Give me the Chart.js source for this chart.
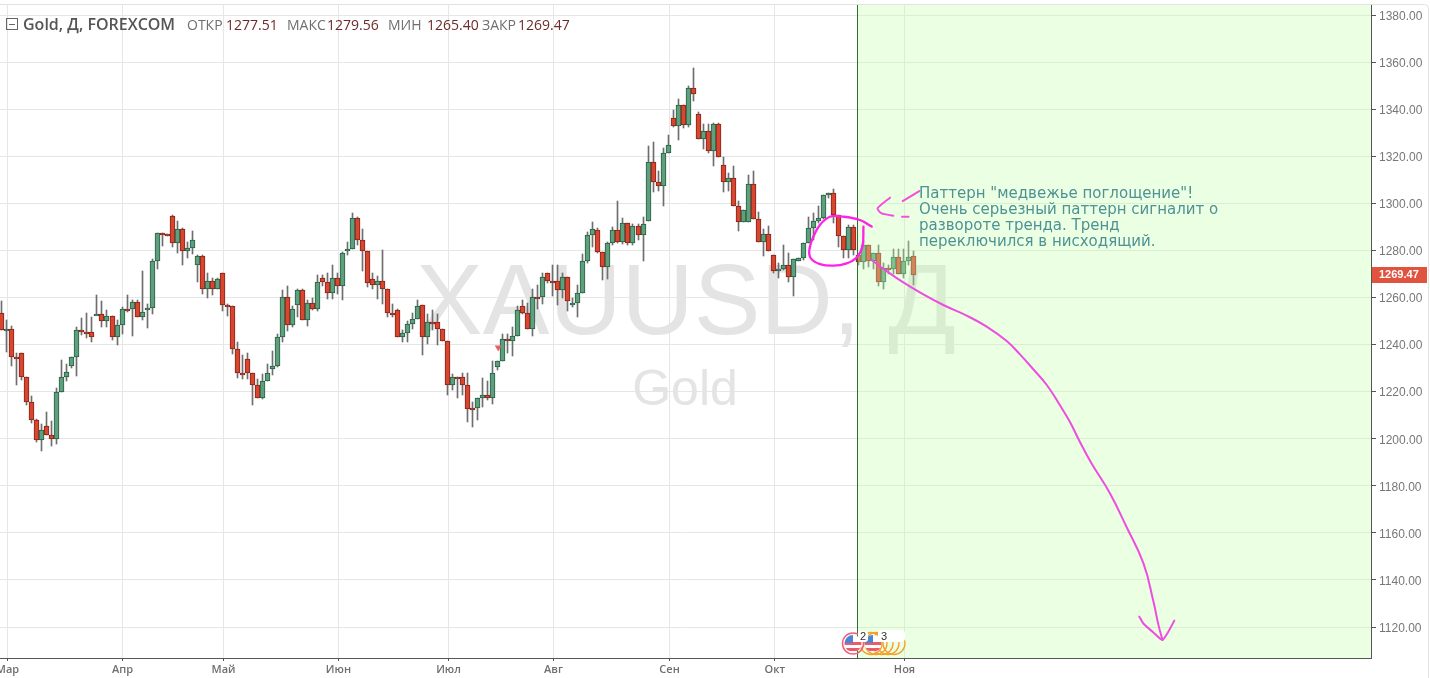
<!DOCTYPE html>
<html lang="ru">
<head>
<meta charset="utf-8">
<title>Gold, Д, FOREXCOM</title>
<script src="https://cdn.jsdelivr.net/npm/chart.js@4"></script>
<style>html,body{margin:0;padding:0;background:#fff;overflow:hidden}canvas{display:block}</style>
</head>
<body>
<canvas id="c" width="1430" height="678"></canvas>
<script>
const opens = [1253.2,1246,1246.8,1234.9,1236.6,1226,1215.7,1208.1,1199.6,1205.5,
1201.7,1200,1220,1226,1231,1234.5,1246,1245.5,1245.4,1252.6,
1252.8,1249.8,1252.2,1243.4,1248.1,1255.3,1255.3,1257.9,1251.5,1254.9,
1255.7,1275.7,1287.2,1286.8,1294.5,1283,1288.9,1279.6,1280.9,1274,
1277.5,1263.4,1267.2,1263.8,1270.2,1256.6,1256.2,1237.9,1228.1,1234,
1227.7,1223,1217.4,1224.7,1229.4,1231,1243,1260,1248.1,1256.6,
1263,1250.6,1257.5,1254.9,1268.1,1266.4,1262.1,1268.4,1264.7,1279.6,
1280.4,1293.6,1284.3,1279.6,1267.7,1265.1,1267.2,1263.4,1253.6,1254.5,
1243.4,1244.7,1248.9,1251,1257,1243,1249.4,1249.4,1246.4,1241.7,
1223,1226.4,1226.4,1222.6,1213.2,1213.2,1217.4,1218.7,1217.4,1230.6,
1232.8,1242.5,1241.3,1243.8,1256.2,1253.6,1246.4,1260,1260,1270.2,
1267.2,1267.2,1263,1268.9,1257,1257.5,1261.7,1275.7,1286.4,1288.5,
1279.2,1272.8,1283,1288.5,1283.4,1291.5,1283,1290.2,1286.4,1292.3,
1317.5,1308.9,1307.2,1321.3,1336.2,1332.8,1341.7,1333.2,1348.9,1337.9,
1327.2,1330.6,1322.1,1333.6,1316.2,1308.9,1310.6,1298.7,1291.9,1291.9,
1308.1,1293.2,1283.4,1286.8,1277.9,1271.1,1272.3,1274,1268.8,1275.3,
1276.6,1283,1289.4,1292.3,1293.6,1303.4,1304.3,1294.9,1286,1280,
1289.8,1278,1274.9,1282.5,1275.7,1279.1,1266.6,1272.7,1272.3,1277,1269.8,1275.3,1277.51];
const highs = [1258.4,1250.4,1247.7,1236.2,1236.6,1226,1218.3,1208.5,1206.1,1211.2,
1207.4,1221.7,1233.3,1231.6,1234.5,1247.4,1251.2,1253.3,1251.8,1261,
1258.4,1254.6,1252.2,1250.4,1255.9,1261,1258.9,1258.9,1271.2,1257.2,
1276.2,1287.2,1287.2,1286.8,1295,1292.5,1289.4,1283.4,1288.2,1277.9,
1277.9,1270.2,1268.1,1268.1,1270.2,1257.4,1256.2,1241,1235.4,1236.2,
1228.1,1225.5,1227.4,1231.6,1237.2,1244.4,1263.1,1264.8,1256.3,1263.5,
1263.5,1258.9,1259.7,1269.5,1269.5,1270.2,1274,1270.2,1279.4,1283.5,
1295.7,1294,1289.1,1279.6,1270.2,1269.1,1280.1,1263.4,1257.2,1255,
1246,1249.8,1253.6,1258.9,1257,1252.8,1254.6,1252.8,1246.4,1241.7,
1227.4,1226.4,1228.1,1228.1,1215.5,1217.4,1225.8,1224.4,1232.8,1232.8,
1244.3,1244.3,1247.4,1256.3,1258.9,1257.5,1263.7,1265.2,1270.2,1270.2,
1274,1273.6,1270.6,1268.9,1259.6,1265.1,1278.4,1287.8,1291.9,1289.4,
1279.2,1283.7,1290.1,1301,1293.6,1291.5,1291.1,1291.1,1294,1324.4,
1326.1,1313.6,1323.4,1329.1,1339.7,1344.3,1341.7,1349.9,1357.5,1339,
1333.6,1333.6,1334.3,1334.3,1319.6,1312.8,1315.9,1301,1297,1312.1,
1313.8,1296.2,1289,1290.2,1277.9,1274.5,1282.1,1278.7,1276.2,1276.6,
1283,1294,1295.8,1299,1303.4,1304.3,1306,1294.9,1286,1290.8,
1290.8,1278,1284,1282.5,1279.1,1282.5,1274.5,1274,1280.8,1280.8,1280.8,1284,1279.56];
const lows = [1246,1236.9,1230.9,1222.7,1224.8,1214.2,1206.7,1198.6,1194.7,1201.7,
1196.7,1197.6,1220,1224.4,1230.1,1226.5,1244,1242.8,1241,1252.6,
1247.5,1247.5,1241.8,1239.7,1244.4,1253.8,1243.5,1251.5,1250.6,1247,
1253,1272,1281.8,1286.7,1281.6,1279,1273.9,1276.9,1278.6,1266.5,
1261.4,1259.9,1261,1263.4,1254.2,1252,1235.9,1225.8,1225.3,1225.3,
1214.3,1217.4,1216.9,1224.7,1227,1230.5,1241,1245.8,1247.5,1251.8,
1250.6,1247.8,1254.6,1254.3,1264.8,1259.4,1259.4,1261.4,1259,1277.9,
1280.4,1282.3,1271.3,1264.5,1263.4,1259.4,1257.4,1251.5,1251.5,1243,
1241,1241,1246.8,1251,1235.4,1240.4,1246,1239.7,1241.3,1218.4,
1220.6,1217.2,1218.4,1207.1,1205,1207.8,1213.5,1216.6,1214.9,1229.1,
1232.8,1236.2,1235.2,1243.8,1253,1246.4,1243.7,1254.9,1257.4,1266,
1260.7,1256.6,1259.6,1254.3,1256,1251.8,1261.7,1274.7,1281.6,1278.7,
1267.4,1268,1282.3,1283,1282.6,1282.3,1282.3,1284.4,1275.6,1292.3,
1305,1305.4,1299,1321.3,1332.3,1326.7,1331.9,1332.6,1343.3,1327.2,
1323,1321.3,1315.9,1319.6,1305,1305.3,1298.7,1288.4,1291.9,1291.9,
1293.2,1283.4,1277.7,1279.6,1270.2,1268.1,1271.6,1266.7,1260.7,1275.3,
1275.9,1283,1284.4,1291.5,1293.2,1302.1,1291.5,1281.6,1276.6,1276.6,
1278,1274,1272.3,1273,1272.3,1264.9,1263.5,1269.8,1269.8,1269.8,1268.1,1274,1265.4];
const closes = [1246,1246.8,1234.9,1234,1226,1215.7,1208.1,1199.6,1203.8,1201.7,
1200,1220,1226,1228.5,1234.5,1246,1245.4,1245.4,1243,1252.8,
1249.8,1252.2,1243.4,1248.5,1255.3,1255.2,1257.9,1251.5,1254,1255.7,
1275.7,1287.2,1286.8,1286.7,1283,1288.9,1279.6,1280.9,1284.3,1277.5,
1263.4,1267.2,1263.8,1267.7,1256.6,1256.3,1237.9,1228.1,1228,1227.7,
1223,1217.4,1224.7,1227.7,1231,1243,1260,1248.1,1255.3,1263,
1250.6,1257.5,1254.9,1266.4,1266.4,1262.1,1268.4,1264.7,1278.7,1280.4,
1293.6,1284.3,1279.6,1266,1265.1,1267.2,1263.4,1253.6,1253.2,1243.4,
1244.7,1248.9,1251,1256.2,1243,1249.4,1249.3,1246.4,1241.3,1223,
1226.4,1226.3,1222.6,1212.8,1213.1,1217.4,1218.7,1217.4,1228.1,1232.8,
1242.5,1241.3,1243.8,1254.5,1253.6,1246.4,1260,1259.9,1268.9,1267.2,
1267.1,1263,1268.9,1258.3,1257.5,1261.7,1275.7,1286.4,1288.9,1279.2,
1272.8,1283,1288.5,1283.4,1291.5,1283,1290.2,1286.4,1291.1,1317.5,
1308.9,1307.2,1321.3,1324.7,1332.8,1341.7,1333.2,1348.9,1346.4,1327.2,
1330.6,1322.1,1333.6,1319.6,1308.9,1310.6,1298.7,1291.9,1297,1308.1,
1293.2,1283.4,1286.8,1279.6,1271.1,1272.3,1274,1268.8,1276.2,1276.6,
1283,1289.4,1292.3,1293.6,1303.4,1304.3,1294.9,1286,1280,1289.8,
1280,1274.9,1282.5,1275.7,1279.1,1266.6,1272.7,1272.3,1277,1269.8,1275.3,1277.4,1269.47];

const monthLabels = ['Мар','Апр','Май','Июн','Июл','Авг','Сен','Окт','Ноя'];
const monthIndex  = [1.14,24.1,44.26,67.2,89.18,110.13,133.3,154.3,180.2];
const priceMin = 1106.83, priceMax = 1384.25, priceStep = 20;
const indexMin = -0.359, indexMax = 273.32;
const forecastStart = 170.82;
const lastClose = 1269.47;
const sellSignal = {x: 99.1, y: 1238.5};

const headerTitle = 'Gold, Д, FOREXCOM';
const headerLabels = ['ОТКР','МАКС','МИН','ЗАКР'];
const headerValues = ['1277.51','1279.56','1265.40','1269.47'];
const noteLines = ['Паттерн "медвежье поглощение"!','Очень серьезный паттерн сигналит о','развороте тренда. Тренд','переключился в нисходящий.'];

const curveX = [173.64,176.3,179.96,183.96,187.95,192.6,196.6,200.6,203.25,205.9,208.6,211.2,213.2,215.2,217.55,221.2,224.5,227.9,229.9,230.9,231.7];
const curveY = [1275.9,1271.7,1266.4,1261.3,1256.8,1252.3,1247.6,1241.5,1235.8,1229.5,1222.8,1214.3,1207.2,1198.7,1189.5,1176.8,1162.6,1147,1130.7,1120.8,1114.5];
const headX  = [227.07,227.87,229.87,231.67,232.86,234.06];
const headY  = [1124.4,1121.5,1117.7,1114.5,1118,1122.7];
const ringX  = [173.65,171.3,168,165.3,163.3,162,161.2,161.5,163.3,166,168.65,170.65,171.8,172];
const ringY  = [1290.1,1292.9,1294.3,1294.3,1290.8,1285.8,1280.2,1276.6,1274.2,1273.5,1274.5,1277,1281.6,1290.1];
const dashX  = [183.16,179.83,179.9,177.3,174.8,175.64,177.97,178.5,179.7,181];
const dashY  = [1305.2,1300.95,null,1302.4,1297.8,1295.7,1294.7,null,1294.3,1294.3];

const upFill='#5f9f7d', upLine='#245f42', downFill='#d9462f', downLine='#84231a';
const pair=(xs,ys)=>xs.map((x,i)=>({x,y:ys[i]}));
const idx=opens.map((_,i)=>i);
const isUp=i=>closes[i]>=opens[i];
const scribble=(data,color,width,tension)=>({type:'line',data,borderColor:color,borderWidth:width,pointRadius:0,tension,order:0,borderCapStyle:'round',borderJoinStyle:'round',spanGaps:false});

const pixelSnap={id:'pixelSnap',afterDatasetsUpdate(chart){
  [0,1].forEach(d=>chart.getDatasetMeta(d).data.forEach(el=>{
    el.x=Math.floor(el.x)+0.5;
    let a=Math.round(el.y),b=Math.round(el.base);
    if(Math.abs(a-b)<2){ b=a+2; }
    el.y=a; el.base=b;
  }));
}};

const decor={id:'decor',
  beforeDatasetsDraw(chart){
    const c=chart.ctx; c.save();
    c.fillStyle='#e4e4e4'; c.textAlign='center'; c.textBaseline='alphabetic';
    c.font='100px "Liberation Sans"'; c.fillText('XAUUSD, Д',686,334);
    c.font='50px "Liberation Sans"'; c.fillText('Gold',685,405);
    c.restore();
  },
  afterDatasetDraw(chart,args){
    if(args.index!==1) return;
    const c=chart.ctx,a=chart.chartArea,x=Math.floor(chart.scales.x.getPixelForValue(forecastStart));
    c.save();
    c.fillStyle='rgba(195,255,170,0.34)';
    c.fillRect(x,a.top,a.right-x,a.bottom-a.top);
    c.fillStyle='#2c6e2c';
    c.fillRect(x,a.top,1,a.bottom-a.top);
    c.restore();
  },
  afterDraw(chart){
    const c=chart.ctx,yS=chart.scales.y,xS=chart.scales.x;
    c.save();
    // frame
    c.strokeStyle='#e2e2e2'; c.lineWidth=1;
    c.beginPath(); c.moveTo(0,4.5); c.lineTo(1424,4.5); c.arcTo(1428.5,4.5,1428.5,9,4); c.lineTo(1428.5,678); c.stroke();
    // header
    c.strokeStyle='#666'; c.strokeRect(6.5,18.5,11,11);
    c.beginPath(); c.moveTo(9,24.5); c.lineTo(15,24.5); c.stroke();
    c.textBaseline='alphabetic'; c.textAlign='left';
    c.fillStyle='#555'; c.font='600 16px "Open Sans"'; c.fillText(headerTitle,23,30);
    const lx=[187,287,388,482], vx=[226,327,427,518];
    headerLabels.forEach((t,i)=>{
      c.fillStyle='#6f6f6f'; c.font='14px "Open Sans"'; c.fillText(t,lx[i],30);
      c.fillStyle='#6e2a2a'; c.fillText(headerValues[i],vx[i],30);
    });
    // note
    c.fillStyle='#4f9296'; c.font='15px "DejaVu Sans"';
    noteLines.forEach((t,i)=>c.fillText(t,919,198+i*16));
    // price tag
    const py=Math.round(yS.getPixelForValue(lastClose));
    c.fillStyle='#e0533f'; c.fillRect(1372,py-8,55,16);
    c.fillStyle='#fff'; c.font='bold 11px "Liberation Sans"'; c.textBaseline='middle';
    c.fillText(lastClose.toFixed(2),1379,py);
    // sell marker
    const sx=xS.getPixelForValue(sellSignal.x), sy=yS.getPixelForValue(sellSignal.y);
    c.fillStyle='#e8606a'; c.beginPath(); c.moveTo(sx-3.5,sy-2.5); c.lineTo(sx+3.5,sy-2.5); c.lineTo(sx,sy+3.5); c.closePath(); c.fill();
    // event badges
    c.beginPath(); c.rect(840,625,70,32); c.clip();
    c.strokeStyle='#f5a02a'; c.lineWidth=1.3;
    [898,892,886,880,875].forEach(x=>{c.beginPath();c.arc(x-4,643.5,11,0,Math.PI*2);c.stroke();});
    const flag=(x)=>{
      c.save(); c.beginPath(); c.arc(x,643.5,8.5,0,Math.PI*2); c.clip();
      c.fillStyle='#fff'; c.fillRect(x-9,635,18,18);
      c.fillStyle='#ef5a6a'; c.fillRect(x-9,642,18,3); c.fillRect(x-9,648,18,3);
      c.fillStyle='#4a86d8'; c.fillRect(x-9,635,9,8);
      c.restore();
    };
    flag(853); flag(873);
    c.strokeStyle='#f0607a'; c.lineWidth=1.5; c.beginPath(); c.arc(853,643.5,10.5,0,Math.PI*2); c.stroke();
    c.fillStyle='#fff';
    c.beginPath(); c.roundRect(858,631,10,11,3); c.fill();
    c.beginPath(); c.roundRect(878,630,27,12,4); c.fill();
    c.fillStyle='#333'; c.font='11px "Liberation Sans"'; c.textBaseline='middle'; c.textAlign='center';
    c.fillText('2',863,636.5); c.fillText('3',884,636.5);
    c.restore();
  }
};

new Chart(document.getElementById('c'),{
  type:'bar',
  data:{datasets:[
    {data:idx.map(i=>({x:i,y:[lows[i],highs[i]]})),backgroundColor:'#6e6e6e',borderWidth:0,barThickness:1,grouped:false,order:2},
    {data:idx.map(i=>({x:i,y:[opens[i],closes[i]]})),backgroundColor:idx.map(i=>isUp(i)?upFill:downFill),borderColor:idx.map(i=>isUp(i)?upLine:downLine),borderWidth:1,borderSkipped:false,barThickness:5,grouped:false,order:1},
    scribble(pair(ringX,ringY),'#ff22e6',2.3,0.4),
    scribble(pair(curveX,curveY),'#ee4ddf',2,0.45),
    scribble(pair(headX,headY),'#ee4ddf',2,0.2),
    scribble(pair(dashX,dashY),'#f54fe0',2,0.2)
  ]},
  options:{
    responsive:false,animation:false,
    layout:{padding:{top:5,left:0,right:0,bottom:0}},
    plugins:{legend:{display:false},tooltip:{enabled:false},title:{display:false}},
    events:[],
    scales:{
      x:{type:'linear',min:indexMin,max:indexMax,offset:false,
        afterBuildTicks(s){s.ticks=monthIndex.map(v=>({value:v}));},
        afterFit(s){s.height=20;s.paddingLeft=0;s.paddingRight=0;},
        grid:{offset:false,color:'#e6e6e6',tickColor:'#555',tickLength:3},
        border:{color:'#555'},
        ticks:{autoSkip:false,maxRotation:0,minRotation:0,padding:2,color:'#6f6f6f',font:{family:'"Open Sans"',size:11,weight:'600'},
          callback(v){return monthLabels[monthIndex.indexOf(v)]||'';}}
      },
      y:{type:'linear',position:'right',min:priceMin,max:priceMax,
        afterFit(s){s.width=59;s.paddingTop=0;s.paddingBottom=0;},
        grid:{color:'#e6e6e6',tickColor:'#555',tickLength:5},
        border:{color:'#555'},
        ticks:{stepSize:priceStep,includeBounds:false,padding:3,labelOffset:1.5,color:'#777',font:{family:'"Liberation Sans"',size:12},
          callback(v){return Number(v).toFixed(2);}}
      }
    }
  },
  plugins:[pixelSnap,decor]
});
</script>
</body>
</html>
